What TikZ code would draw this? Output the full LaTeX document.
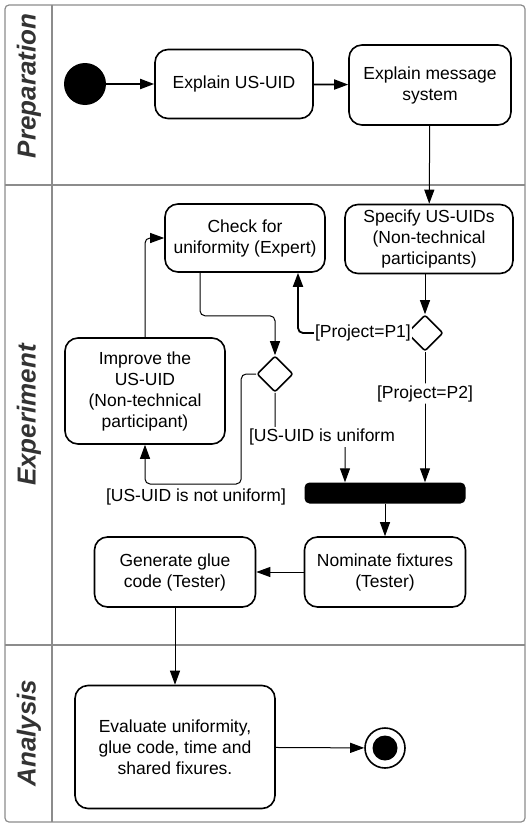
\documentclass[tikz,border=0pt]{standalone}
\usepackage{fontspec}
\setmainfont{Liberation Sans}
\usepackage{tikz}
\usetikzlibrary{arrows.meta,positioning,shapes}

\begin{document}
\begin{tikzpicture}[x=1pt,y=-1pt,
    font=\fontsize{17.5}{21}\selectfont,
    act/.style={draw,line width=1.6pt,rounded corners=13pt,align=center,inner sep=0pt},
    choice/.style={draw,diamond,line width=1.6pt,rounded corners=2pt,minimum width=36pt,minimum height=36pt,inner sep=0pt},
    flow/.style={line width=1pt,-{Triangle[length=14pt,width=10pt]},rounded corners=5pt},
    bold flow/.style={flow,line width=1.8pt},
    guard/.style={fill=white,inner xsep=1pt,inner ysep=2pt},
    lane/.style={draw=black!45,line width=1.2pt},
    lanename/.style={rotate=90,font=\fontsize{26}{30}\selectfont\bfseries\itshape,text=black!80}]
    \useasboundingbox (0,0) rectangle (531,827);
    \draw[lane,rounded corners=4pt] (5,5) rectangle (525,822);
    \draw[lane] (52,5) -- (52,822);
    \foreach \y in {185,645}
    {
      \draw[lane] (5,\y) -- (525,\y);
    }
    \foreach \y/\name/\txt in {86/prep/Preparation,415/exp/Experiment,733/ana/Analysis}
    {
      \node[lanename] (\name) at (29,\y) {\txt};
    }
    \node[circle,fill,minimum size=42pt,inner sep=0pt] (start) at (85,84) {};
    \node[act,minimum width=158pt,minimum height=69pt] (explain) at (234,84) {Explain US-UID};
    \node[act,minimum width=162pt,minimum height=80pt] (message) at (430,85) {Explain message\\system};
    \node[act,minimum width=168pt,minimum height=69pt] (specify) at (429,239) {Specify US-UIDs\\(Non-technical\\participants)};
    \node[act,minimum width=160pt,minimum height=68pt] (check) at (245,238) {Check for\\uniformity (Expert)};
    \node[choice] (d1) at (425,333) {};
    \node[choice] (d2) at (275,374) {};
    \node[act,minimum width=160pt,minimum height=106pt] (improve) at (145,391) {Improve the\\US-UID\\(Non-technical\\participant)};
    \node[fill,rounded corners=5pt,minimum width=161pt,minimum height=21pt,inner sep=0pt] (bar) at (385,493) {};
    \node[act,minimum width=161pt,minimum height=70pt] (nominate) at (385,572) {Nominate fixtures\\(Tester)};
    \node[act,minimum width=161pt,minimum height=70pt] (generate) at (175,572) {Generate glue\\code (Tester)};
    \node[act,minimum width=200pt,minimum height=123pt] (evaluate) at (175,747) {Evaluate uniformity,\\glue code, time and\\shared fixures.};
    \node[circle,draw,line width=1.6pt,minimum size=40pt,inner sep=0pt] (stop) at (385,748) {};
    \node[circle,fill,minimum size=25pt,inner sep=0pt] (stopdot) at (stop) {};
    \draw[bold flow] (start) -- (explain);
    \draw[bold flow] (explain) -- (message);
    \draw[flow] (message) -- (specify);
    \draw[flow] (specify.south -| d1) -- (d1);
    \draw[bold flow] (d1.west) -| ([xshift=53pt]check.south) node[guard,pos=0.2] (p1) {[Project=P1]};
    \draw[flow] (d1) -- ([xshift=40pt]bar.north) node[guard,pos=0.32] (p2) {[Project=P2]};
    \draw[flow] ([xshift=-45pt]check.south) -- ++(0,43) -| (d2);
    \draw[flow] (d2.west) -- ++(-15,0) -- ++(0,110) -| (improve);
    \draw[flow] (d2) -- ++(0,63) -| ([xshift=-40pt]bar.north);
    \node[guard] (uni) at (322,437) {[US-UID is uniform};
    \node (notuni) at (196,497) {[US-UID is not uniform]};
    \draw[flow] (improve) |- (check);
    \draw[flow] (bar) -- (nominate);
    \draw[flow] (nominate) -- (generate);
    \draw[flow] (generate) -- (evaluate);
    \draw[flow] (evaluate) -- (stop);
  \end{tikzpicture}
\end{document}
